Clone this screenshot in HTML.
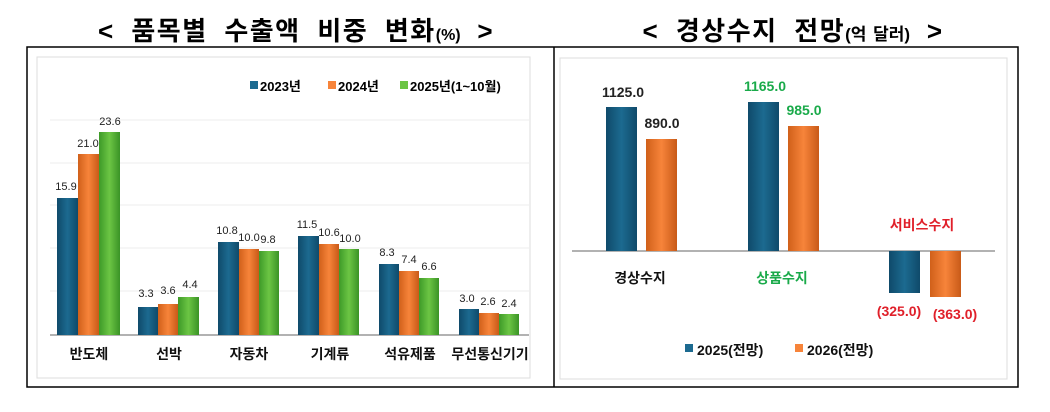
<!DOCTYPE html>
<html><head><meta charset="utf-8"><style>
body{margin:0;background:#fff;}
svg{display:block;font-family:"Liberation Sans","Noto Sans CJK KR",sans-serif;}
</style></head><body>
<svg width="1050" height="412" xmlns="http://www.w3.org/2000/svg">
<defs>
<linearGradient id="b" x1="0" x2="1"><stop offset="0" stop-color="#0f4a6a"/><stop offset=".5" stop-color="#1c6a90"/><stop offset="1" stop-color="#0f4a6a"/></linearGradient>
<linearGradient id="o" x1="0" x2="1"><stop offset="0" stop-color="#d0601a"/><stop offset=".5" stop-color="#f7843a"/><stop offset="1" stop-color="#c85a18"/></linearGradient>
<linearGradient id="g" x1="0" x2="1"><stop offset="0" stop-color="#3d9a28"/><stop offset=".5" stop-color="#6cc544"/><stop offset="1" stop-color="#3a9326"/></linearGradient>
</defs>
<text x="296" y="40" font-size="26" font-weight="bold" text-anchor="middle" fill="#000" letter-spacing="1.5" word-spacing="8">&lt; 품목별 수출액 비중 변화<tspan font-size="16" letter-spacing="0">(%)</tspan> &gt;</text>
<text x="793" y="40" font-size="26" font-weight="bold" text-anchor="middle" fill="#000" letter-spacing="1.5" word-spacing="8">&lt; 경상수지 전망<tspan font-size="17" letter-spacing="0" word-spacing="2">(억 달러)</tspan> &gt;</text>
<rect x="27" y="47" width="991" height="340" fill="none" stroke="#000" stroke-width="1.5"/>
<line x1="554" y1="47" x2="554" y2="387" stroke="#000" stroke-width="1.5"/>
<rect x="37" y="57" width="493" height="321" fill="none" stroke="#ddd"/>
<rect x="560" y="58" width="447" height="321" fill="none" stroke="#ddd"/>
<g stroke="#eee"><line x1="50" y1="120" x2="529" y2="120"/><line x1="50" y1="163" x2="529" y2="163"/><line x1="50" y1="205" x2="529" y2="205"/><line x1="50" y1="248" x2="529" y2="248"/><line x1="50" y1="291" x2="529" y2="291"/></g>
<line x1="50" y1="335" x2="529" y2="335" stroke="#999" stroke-width="1.5"/>
<g font-size="12" font-weight="bold" fill="#000">
<rect x="250" y="81" width="8" height="8" fill="#1c6a90"/><text x="260" y="91" font-size="13">2023년</text>
<rect x="328" y="81" width="8" height="8" fill="#f7843a"/><text x="338" y="91" font-size="13">2024년</text>
<rect x="400" y="81" width="8" height="8" fill="#6cc544"/><text x="410" y="91" font-size="13">2025년(1~10월)</text>
</g>
<g font-size="11" fill="#222" text-anchor="middle">
<rect x="57" y="198" width="21" height="137" fill="url(#b)"/><rect x="78" y="154" width="21" height="181" fill="url(#o)"/><rect x="99" y="132" width="21" height="203" fill="url(#g)"/>
<text x="66" y="190">15.9</text><text x="88" y="147">21.0</text><text x="110" y="125">23.6</text>
<rect x="138" y="307" width="20" height="28" fill="url(#b)"/><rect x="158" y="304" width="20" height="31" fill="url(#o)"/><rect x="178" y="297" width="21" height="38" fill="url(#g)"/>
<text x="146" y="297">3.3</text><text x="168" y="294">3.6</text><text x="190" y="288">4.4</text>
<rect x="218" y="242" width="21" height="93" fill="url(#b)"/><rect x="239" y="249" width="20" height="86" fill="url(#o)"/><rect x="259" y="251" width="20" height="84" fill="url(#g)"/>
<text x="227" y="234">10.8</text><text x="249" y="241">10.0</text><text x="268" y="243">9.8</text>
<rect x="298" y="236" width="21" height="99" fill="url(#b)"/><rect x="319" y="244" width="20" height="91" fill="url(#o)"/><rect x="339" y="249" width="20" height="86" fill="url(#g)"/>
<text x="307" y="228">11.5</text><text x="329" y="236">10.6</text><text x="350" y="242">10.0</text>
<rect x="379" y="264" width="20" height="71" fill="url(#b)"/><rect x="399" y="271" width="20" height="64" fill="url(#o)"/><rect x="419" y="278" width="20" height="57" fill="url(#g)"/>
<text x="387" y="256">8.3</text><text x="409" y="263">7.4</text><text x="429" y="270">6.6</text>
<rect x="459" y="309" width="20" height="26" fill="url(#b)"/><rect x="479" y="313" width="20" height="22" fill="url(#o)"/><rect x="499" y="314" width="20" height="21" fill="url(#g)"/>
<text x="467" y="302">3.0</text><text x="488" y="305">2.6</text><text x="509" y="307">2.4</text>
</g>
<g font-size="14" font-weight="bold" fill="#111" text-anchor="middle">
<text x="89" y="359">반도체</text><text x="169" y="359">선박</text><text x="249" y="359">자동차</text><text x="330" y="359">기계류</text><text x="410" y="359">석유제품</text><text x="490" y="359">무선통신기기</text>
</g>
<line x1="572" y1="251" x2="995" y2="251" stroke="#999" stroke-width="1.5"/>
<rect x="606" y="107" width="31" height="144" fill="url(#b)"/><rect x="646" y="139" width="31" height="112" fill="url(#o)"/>
<rect x="748" y="102" width="31" height="149" fill="url(#b)"/><rect x="788" y="126" width="31" height="125" fill="url(#o)"/>
<rect x="889" y="251" width="31" height="42" fill="url(#b)"/><rect x="930" y="251" width="31" height="46" fill="url(#o)"/>
<g font-size="14" font-weight="bold" text-anchor="middle">
<text x="623" y="97" fill="#222">1125.0</text><text x="662" y="128" fill="#222">890.0</text>
<text x="765" y="91" fill="#1aaa4a">1165.0</text><text x="804" y="115" fill="#1aaa4a">985.0</text>
<text x="899" y="316" fill="#e0202a">(325.0)</text><text x="955" y="319" fill="#e0202a">(363.0)</text>
<text x="640" y="283" fill="#111">경상수지</text><text x="782" y="283" fill="#1aaa4a">상품수지</text><text x="922" y="230" fill="#e0202a">서비스수지</text>
</g>
<g font-size="14" font-weight="bold" fill="#111">
<rect x="685" y="344" width="8" height="8" fill="#1c6a90"/><text x="697" y="355">2025(전망)</text>
<rect x="795" y="344" width="8" height="8" fill="#f7843a"/><text x="807" y="355">2026(전망)</text>
</g>
</svg>
</body></html>
